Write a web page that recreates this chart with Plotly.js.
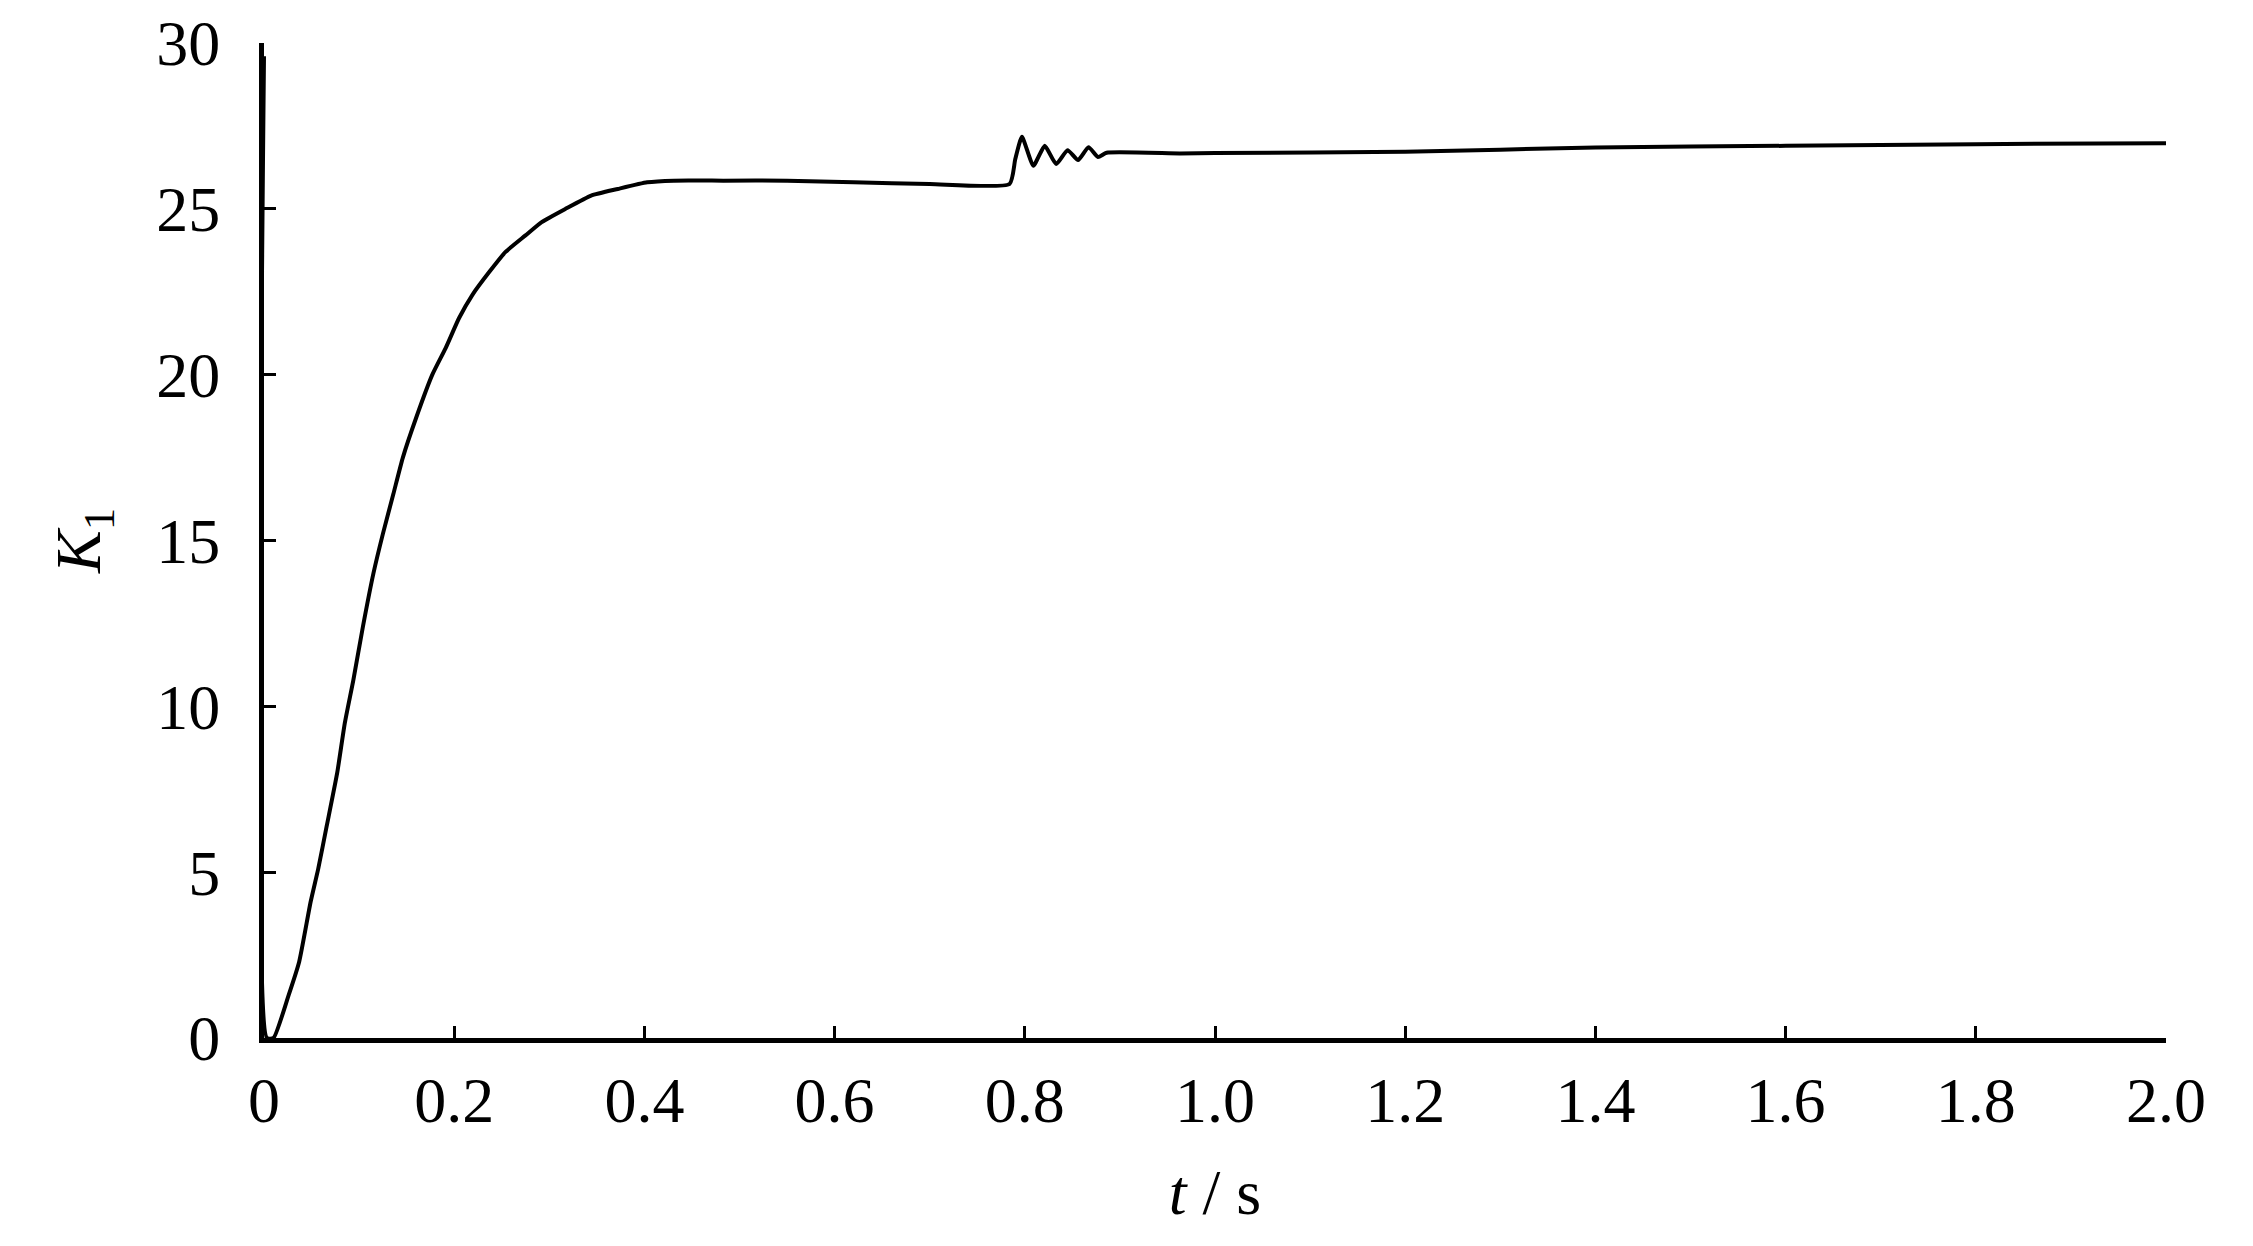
<!DOCTYPE html>
<html>
<head>
<meta charset="utf-8">
<script src="https://cdn.plot.ly/plotly-3.0.1.min.js"></script>
<style>
  html, body { margin: 0; padding: 0; background: #ffffff; }
  #chart { width: 2253px; height: 1246px; }
</style>
</head>
<body>
<div id="chart"></div>
<script>
// K1 response
const timeSeconds = [
    0, 0.003, 0.010, 0.026, 0.037, 0.049, 0.057, 0.066, 0.077, 0.085, 0.094,
    0.104, 0.115, 0.125, 0.136, 0.146, 0.160, 0.177, 0.191, 0.205, 0.219,
    0.237, 0.254, 0.275, 0.292, 0.317, 0.344, 0.372, 0.403, 0.431, 0.483,
    0.55, 0.62, 0.70, 0.784, 0.790, 0.797, 0.809, 0.821, 0.833, 0.845,
    0.856, 0.867, 0.877, 0.886, 0.963, 1.0, 1.2, 1.4, 1.6, 1.8, 2.0
];
const k1Values = [
    29.6, 0, 0, 1.3, 2.3, 4.1, 5.1, 6.4, 8.0, 9.5, 10.8,
    12.4, 14.0, 15.2, 16.4, 17.5, 18.7, 20.0, 20.8, 21.7, 22.4,
    23.1, 23.7, 24.2, 24.6, 25.0, 25.4, 25.6, 25.8, 25.85, 25.85,
    25.85, 25.8, 25.75, 25.75, 26.5, 27.17, 26.3, 26.9, 26.35, 26.77,
    26.47, 26.86, 26.56, 26.69, 26.67, 26.68, 26.72, 26.85, 26.9, 26.95, 26.98
];
const xTicks = [0, 0.2, 0.4, 0.6, 0.8, 1.0, 1.2, 1.4, 1.6, 1.8, 2.0];
const xTickText = ['0', '0.2', '0.4', '0.6', '0.8', '1.0', '1.2', '1.4', '1.6', '1.8', '2.0'];
const yTicks = [0, 5, 10, 15, 20, 25, 30];

const serif = "'Liberation Serif', 'Times New Roman', serif";

const trace = {
    type: 'scatter',
    mode: 'lines',
    x: timeSeconds,
    y: k1Values,
    line: { color: '#000000', width: 4, shape: 'spline', smoothing: 0.5 },
    showlegend: false,
    hoverinfo: 'skip'
};

const axisBase = {
    showgrid: false,
    zeroline: false,
    showline: true,
    linecolor: '#000000',
    linewidth: 5,
    ticks: 'inside',
    ticklen: 12,
    tickwidth: 3,
    tickcolor: '#000000',
    mirror: false,
    automargin: false,
    tickfont: { family: serif, size: 64, color: '#000000' }
};

const layout = {
    width: 2253,
    height: 1246,
    paper_bgcolor: '#ffffff',
    plot_bgcolor: '#ffffff',
    margin: { l: 264, r: 87, t: 43, b: 208 },
    font: { family: serif, color: '#000000' },
    xaxis: {
        ...axisBase,
        range: [0, 2.0],
        tickvals: xTicks,
        ticktext: xTickText,
        ticklabelstandoff: 2,
        title: {
            text: '<i>t</i> / s',
            font: { family: serif, size: 64, color: '#000000' },
            standoff: 36
        }
    },
    yaxis: {
        ...axisBase,
        range: [0, 30],
        tickvals: yTicks,
        ticklabelstandoff: 26,
        title: {
            text: '<i>K</i><sub>1</sub>',
            font: { family: serif, size: 64, color: '#000000' },
            standoff: 36
        }
    }
};

Plotly.newPlot('chart', [trace], layout, { staticPlot: true, displayModeBar: false });
</script>
</body>
</html>
